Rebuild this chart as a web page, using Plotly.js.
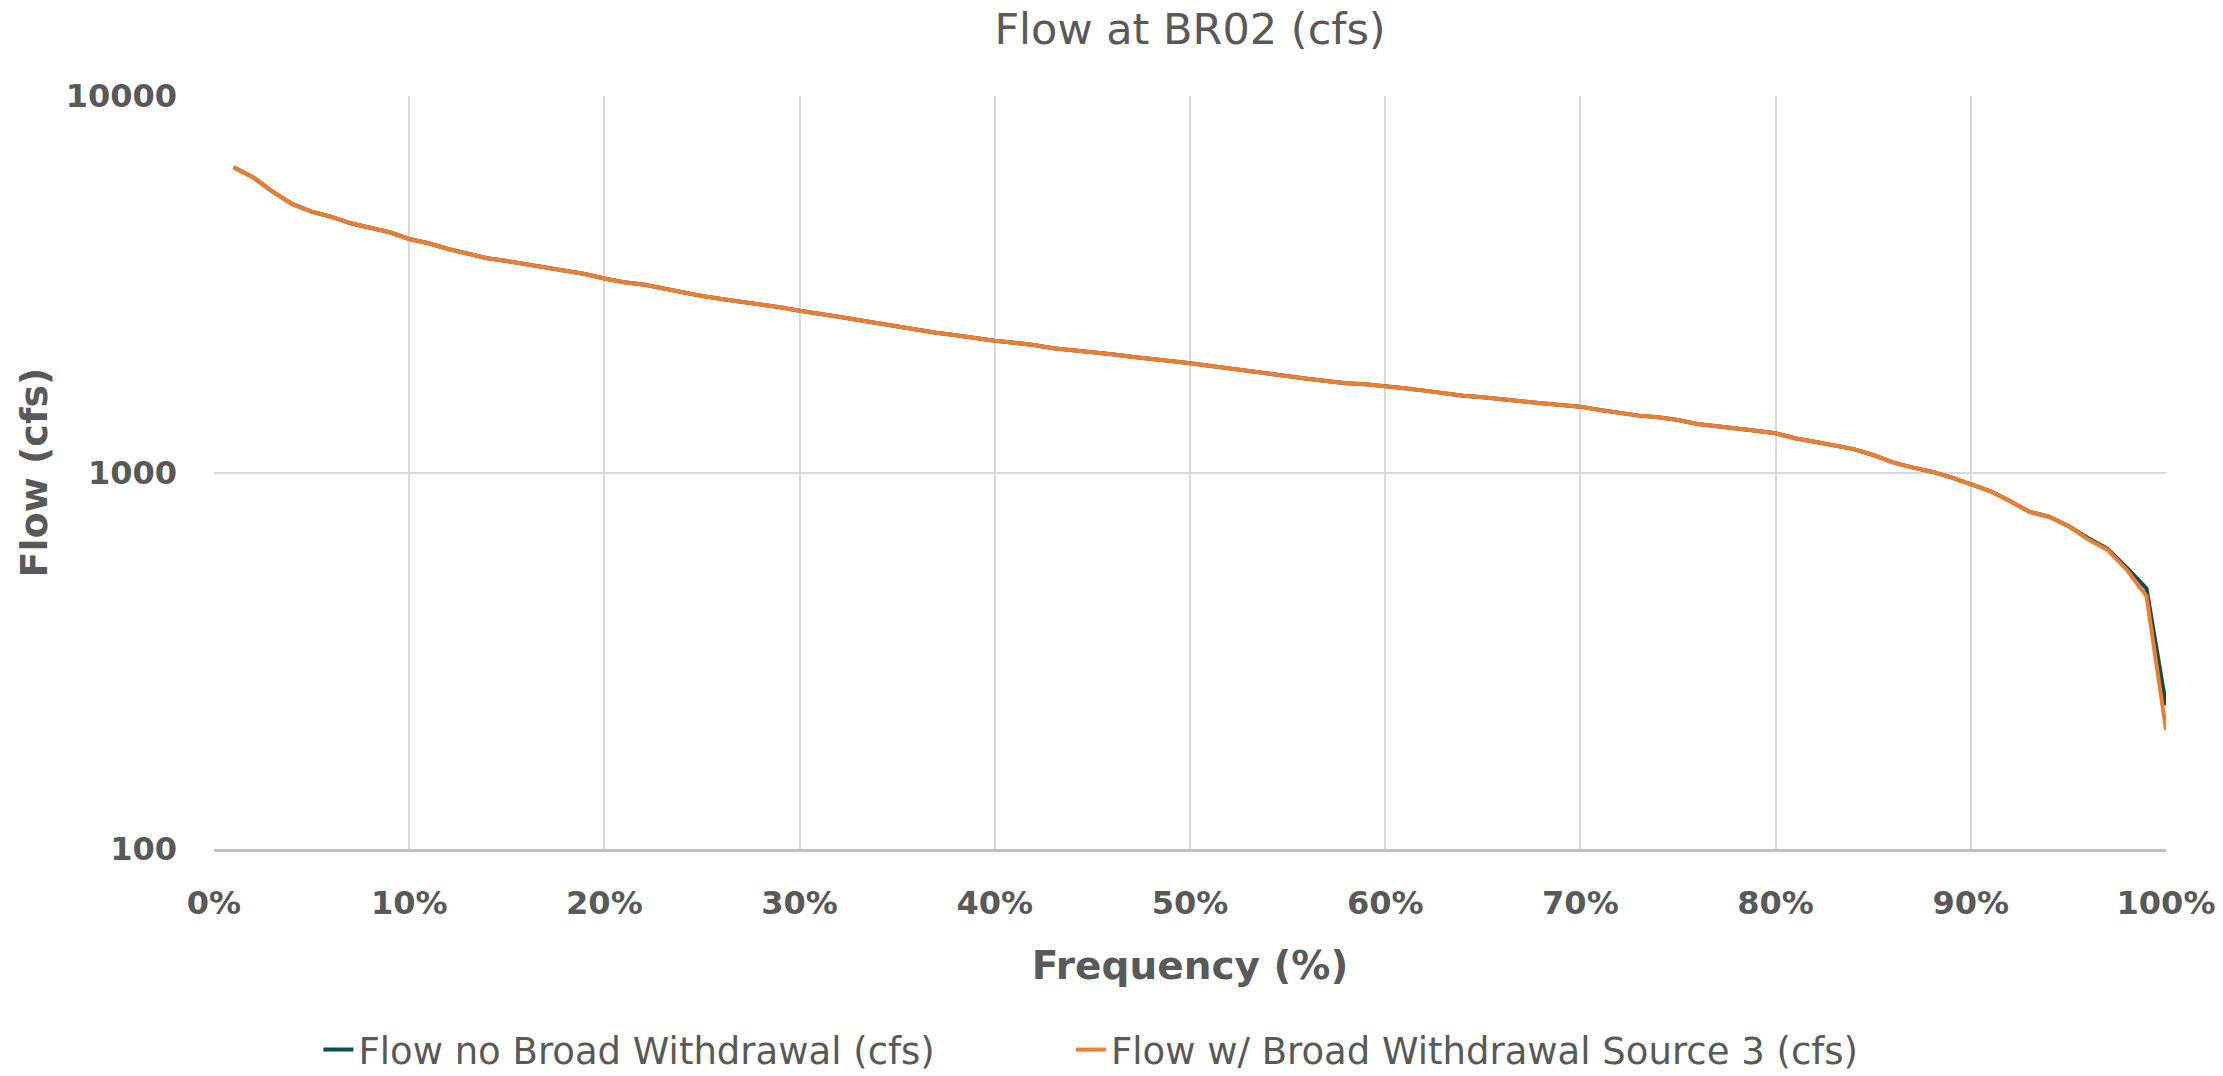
<!DOCTYPE html>
<html>
<head>
<meta charset="utf-8">
<script src="https://cdn.plot.ly/plotly-3.0.1.min.js"></script>
<style>
  html, body { margin: 0; padding: 0; background: #ffffff; }
  #chart { width: 2223px; height: 1076px; }
</style>
</head>
<body>
<div id="chart"></div>
<script>
// Frequency (% of time flow is equalled or exceeded)
const frequency = [1,2,3,4,5,6,7,8,9,10,
  11,12,13,14,15,16,17,18,19,20,
  21,22,23,24,25,26,27,28,29,30,
  31,32,33,34,35,36,37,38,39,40,
  41,42,43,44,45,46,47,48,49,50,
  51,52,53,54,55,56,57,58,59,60,
  61,62,63,64,65,66,67,68,69,70,
  71,72,73,74,75,76,77,78,79,80,
  81,82,83,84,85,86,87,88,89,90,
  91,92,93,94,95,96,97,98,99,100];

// Flow no Broad Withdrawal (cfs)
const flowNoWithdrawal = [6465,6083,5570,5167,4928,4780,4591,4453,4345,4171,
  4063,3924,3822,3707,3646,3574,3487,3415,3368,3276,
  3203,3158,3085,3003,2943,2890,2843,2798,2747,2690,
  2648,2593,2542,2491,2440,2391,2352,2315,2273,2239,
  2212,2182,2138,2116,2090,2061,2031,1999,1978,1950,
  1918,1892,1861,1827,1797,1775,1750,1726,1715,1697,
  1674,1650,1624,1600,1584,1568,1546,1527,1511,1496,
  1466,1442,1416,1402,1379,1345,1329,1307,1291,1271,
  1233,1207,1178,1154,1113,1064,1032,1005,971,932,
  893,840,787,763,721,670,627,558,492,241];

// Flow w/ Broad Withdrawal Source 3 (cfs)
const flowWithSource3 = [6465,6083,5570,5167,4928,4780,4591,4453,4345,4171,
  4063,3924,3822,3707,3646,3574,3487,3415,3368,3276,
  3203,3158,3085,3003,2943,2890,2843,2798,2747,2690,
  2648,2593,2542,2491,2440,2391,2352,2315,2273,2239,
  2212,2182,2138,2116,2090,2061,2031,1999,1978,1950,
  1918,1892,1861,1827,1797,1775,1750,1726,1715,1697,
  1674,1650,1624,1600,1584,1568,1546,1527,1511,1496,
  1466,1442,1416,1402,1379,1345,1329,1307,1291,1271,
  1233,1207,1178,1154,1113,1064,1032,1005,971,932,
  893,840,787,763,721,665,623,551,470,207];

const seriesNames = ['Flow no Broad Withdrawal (cfs)', 'Flow w/ Broad Withdrawal Source 3 (cfs)'];
const yTickVals = [100, 1000, 10000];
const yTickText = ['100', '1000', '10000'];
const xTickVals = [0,10,20,30,40,50,60,70,80,90,100];
const xTickText = ['0%','10%','20%','30%','40%','50%','60%','70%','80%','90%','100%'];

const textColor = '#595959';
const fontFam = '"DejaVu Sans", sans-serif';

const traces = [
  {
    x: frequency, y: flowNoWithdrawal, name: seriesNames[0],
    type: 'scatter', mode: 'lines', legend: 'legend',
    line: { color: '#0E4D4F', width: 4 }
  },
  {
    x: frequency, y: flowWithSource3, name: seriesNames[1],
    type: 'scatter', mode: 'lines', legend: 'legend2',
    line: { color: '#ED7D31', width: 4 }
  }
];

const legendCommon = {
  orientation: 'h',
  xanchor: 'left',
  y: -0.267, yanchor: 'middle',
  font: { family: fontFam, size: 37, color: textColor },
  bgcolor: 'rgba(0,0,0,0)'
};

const layout = {
  width: 2223, height: 1076,
  paper_bgcolor: '#ffffff', plot_bgcolor: '#ffffff',
  margin: { l: 214, r: 57, t: 96, b: 227, autoexpand: false },
  font: { family: fontFam, color: textColor },
  title: {
    text: 'Flow at BR02 (cfs)',
    font: { family: fontFam, size: 43, color: textColor },
    x: 0.5, xref: 'paper', xanchor: 'center',
    y: 0.973, yref: 'container', yanchor: 'middle'
  },
  xaxis: {
    range: [0, 100], automargin: false,
    tickvals: xTickVals, ticktext: xTickText,
    showgrid: true, gridcolor: '#d9d9d9', gridwidth: 2,
    zeroline: false,
    showline: true, linecolor: '#bfbfbf', linewidth: 2.5,
    ticks: '', ticklabelstandoff: 24,
    tickfont: { family: fontFam, size: 32, color: textColor, weight: 'bold' },
    title: {
      text: 'Frequency (%)', standoff: 31,
      font: { family: fontFam, size: 39, color: textColor, weight: 'bold' }
    },
    fixedrange: true
  },
  yaxis: {
    type: 'log', range: [2, 4], automargin: false,
    tickvals: yTickVals, ticktext: yTickText,
    showgrid: true, gridcolor: '#d9d9d9', gridwidth: 2,
    zeroline: false, showline: false,
    ticks: '', ticklabelstandoff: 36,
    tickfont: { family: fontFam, size: 32, color: textColor, weight: 'bold' },
    title: {
      text: 'Flow (cfs)', standoff: 6,
      font: { family: fontFam, size: 38, color: textColor, weight: 'bold' }
    },
    fixedrange: true
  },
  showlegend: true,
  legend: Object.assign({}, legendCommon, { x: 0.0535 }),
  legend2: Object.assign({}, legendCommon, { x: 0.439 })
};

Plotly.newPlot('chart', traces, layout, { displayModeBar: false, staticPlot: true });
</script>
</body>
</html>
